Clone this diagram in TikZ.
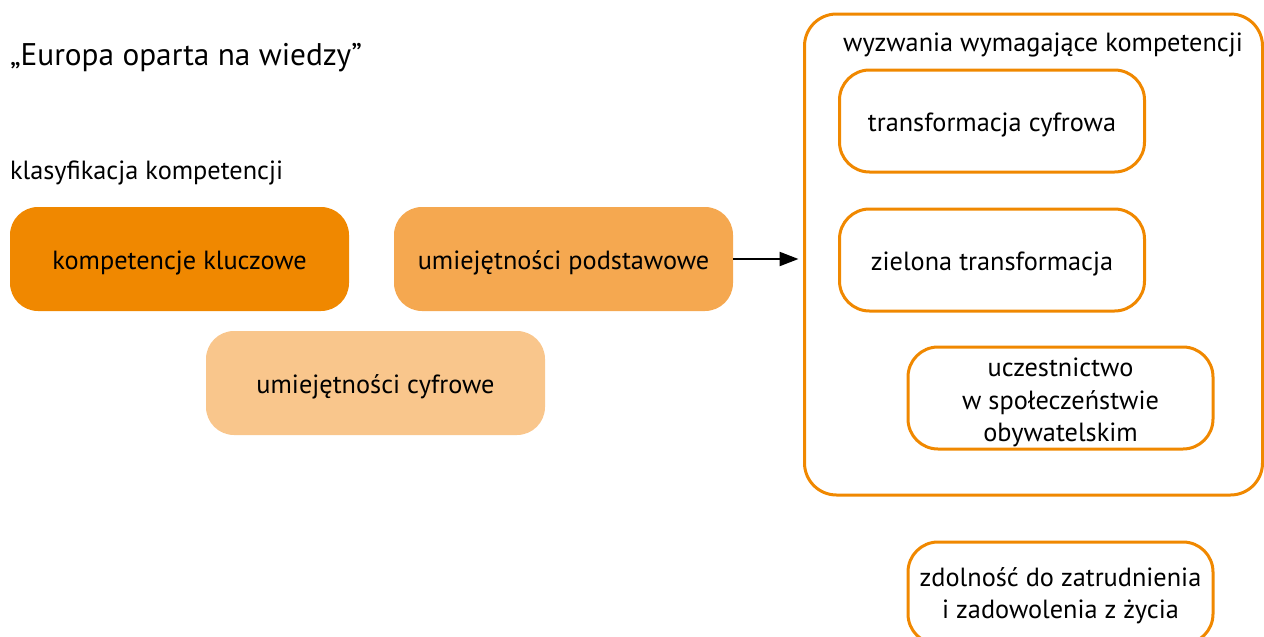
\documentclass[tikz,border=0pt]{standalone}
\usepackage{fontspec}
\setmainfont{PT Sans}
\usetikzlibrary{arrows.meta}
\definecolor{orDark}{RGB}{240,136,0}
\definecolor{orMid}{RGB}{245,168,80}
\definecolor{orLight}{RGB}{249,198,140}
% centred lines whose baseline is that of the first line
\newcommand\centredlines[1]{\vtop{\baselineskip=32.5pt\halign{\hfil##\hfil\cr#1\crcr}}}
\begin{document}
\begin{tikzpicture}[x=1pt,y=-1pt,
  every node/.style={inner sep=0pt,outer sep=0pt,text=black},
  txt/.style={font=\fontsize{26.3}{33}\selectfont},
  oneline/.style={text height=24pt,text depth=3pt},
  fillbox/.style={txt,oneline,rounded corners=28pt,minimum width=339pt,minimum height=104pt},
  linebox/.style={txt,draw=orDark,line width=3pt,rounded corners=30pt,minimum width=305pt,minimum height=102pt},
]
\useasboundingbox (0,0) rectangle (1264,637);

% headings
\node[anchor=base west,font=\fontsize{31.3}{36}\selectfont] (title) at (10,65) {„Europa oparta na wiedzy”};
\node[anchor=base west,txt] (klas) at (10,179) {klasyfikacja kompetencji};

% competence classes
\node[fillbox,fill=orDark] (kk) at (179.5,259) {kompetencje kluczowe};
\node[fillbox,fill=orMid] (up) at (563.5,259) {umiejętności podstawowe};
\node[fillbox,fill=orLight] (uc) at (375.5,383) {umiejętności cyfrowe};

% challenges container
\node[draw=orDark,line width=3pt,rounded corners=32pt,minimum width=458pt,minimum height=481pt] (cont) at (1033.5,254.5) {};
\node[anchor=base,txt] (ctitle) at (1043,51) {wyzwania wymagające kompetencji};
\node[linebox,oneline] (tc) at (992,121) {transformacja cyfrowa};
\node[linebox,oneline] (zt) at (992,260) {zielona transformacja};
\node[linebox,text height=10pt,text depth=53pt] (uo) at (1060.5,398) {\centredlines{uczestnictwo\cr w społeczeństwie\cr obywatelskim}};
\node[linebox,text height=10pt,text depth=24pt] (zd) at (1060.5,593) {\centredlines{zdolność do zatrudnienia\cr i zadowolenia z życia}};

% link from the classes to the challenges
\draw[line width=2.3pt,-{Triangle[length=19pt,width=14pt]},shorten >=6pt]
  (up.east) -- (up.east -| cont.west);
\end{tikzpicture}
\end{document}
